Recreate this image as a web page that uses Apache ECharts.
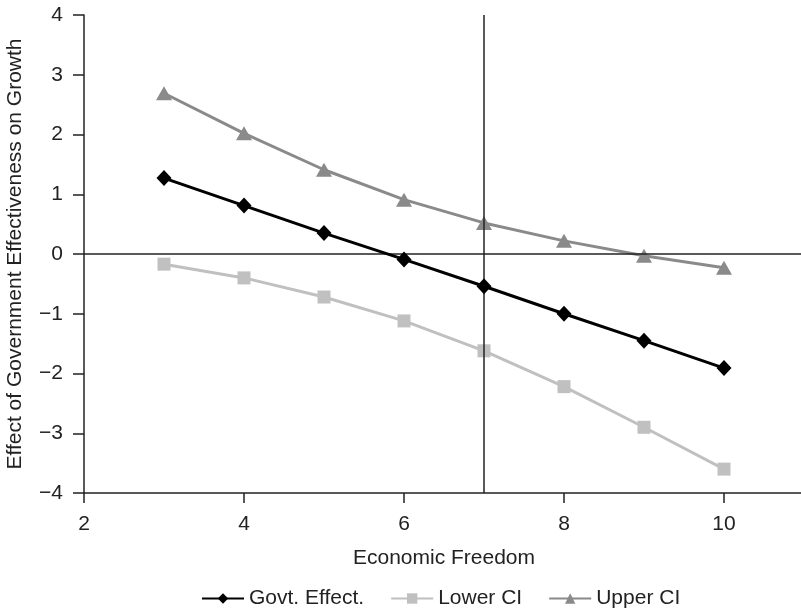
<!DOCTYPE html>
<html><head><meta charset="utf-8">
<script src="https://cdn.jsdelivr.net/npm/echarts@6/dist/echarts.min.js"></script>
<style>html,body{margin:0;padding:0;background:#fff}#c{width:801px;height:610px}</style>
</head><body><div id="c"></div>
<script>
var freedom = [3, 4, 5, 6, 7, 8, 9, 10];
var govtEffect = [1.27, 0.81, 0.35, -0.09, -0.54, -1.0, -1.45, -1.91];
var lowerCI = [-0.17, -0.40, -0.72, -1.12, -1.62, -2.22, -2.90, -3.60];
var upperCI = [2.69, 2.02, 1.41, 0.91, 0.52, 0.22, -0.03, -0.23];
var xTicks = [2, 4, 6, 8, 10];
var yTicks = [-4, -3, -2, -1, 0, 1, 2, 3, 4];
var refX = 7, refY = 0;

function pairs(ys){ return freedom.map(function(x,i){return [x, ys[i]];}); }
function minus(v){ return String(v).replace('-', '\u2212'); }
var font = 'Liberation Sans, Arial, sans-serif';
var axisColor = '#222';
var fs = 21;

var chart = echarts.init(document.getElementById('c'), null, {renderer:'canvas'});
chart.setOption({
  animation: false,
  textStyle: {fontFamily: font},
  grid: {left: 84, right: -3, top: 15, bottom: 117, containLabel: false, outerBoundsMode: 'none'},
  legend: {
    bottom: -4, left: 196, itemWidth: 42, itemHeight: 13, itemGap: 26,
    textStyle: {fontSize: fs, color: '#222', fontFamily: font},
    data: ['Govt. Effect.', 'Lower CI', 'Upper CI']
  },
  xAxis: {
    type: 'value', min: 2, max: 11, interval: 2,
    name: 'Economic Freedom', nameLocation: 'middle', nameGap: 55,
    nameTextStyle: {fontSize: fs, color: '#222', fontFamily: font},
    axisLine: {onZero: false, lineStyle: {color: axisColor, width: 1.5}},
    axisTick: {show: true, length: 10, lineStyle: {color: axisColor, width: 1.5}},
    axisLabel: {fontSize: fs, color: '#222', margin: 21, showMaxLabel: false,
      formatter: function(v){ return xTicks.indexOf(v) >= 0 ? minus(v) : ''; }},
    splitLine: {show: false}
  },
  yAxis: {
    type: 'value', min: -4, max: 4, interval: 1,
    name: 'Effect of Government Effectiveness on Growth', nameLocation: 'middle', nameGap: 58,
    nameTextStyle: {fontSize: fs, color: '#222', fontFamily: font},
    axisLine: {show: true, onZero: false, lineStyle: {color: axisColor, width: 1.5}},
    axisTick: {show: true, length: 11, lineStyle: {color: axisColor, width: 1.5}},
    axisLabel: {fontSize: fs, color: '#222', margin: 21,
      formatter: function(v){ return yTicks.indexOf(v) >= 0 ? minus(v) : ''; }},
    splitLine: {show: false}
  },
  series: [
    {
      name: 'Govt. Effect.', type: 'line', data: pairs(govtEffect), z: 5,
      symbol: 'diamond', symbolSize: [15, 16],
      itemStyle: {color: '#000'}, lineStyle: {color: '#000', width: 3},
      markLine: {
        silent: true, symbol: 'none', label: {show: false},
        lineStyle: {color: axisColor, width: 1.5, type: 'solid'},
        data: [{xAxis: refX}, {yAxis: refY}]
      }
    },
    {
      name: 'Lower CI', type: 'line', data: pairs(lowerCI), z: 4,
      symbol: 'rect', symbolSize: 13,
      itemStyle: {color: '#c0c0c0'}, lineStyle: {color: '#c0c0c0', width: 3}
    },
    {
      name: 'Upper CI', type: 'line', data: pairs(upperCI), z: 4,
      symbol: 'triangle', symbolSize: [16, 14],
      itemStyle: {color: '#8a8a8a'}, lineStyle: {color: '#8a8a8a', width: 3}
    }
  ]
});
</script></body></html>
